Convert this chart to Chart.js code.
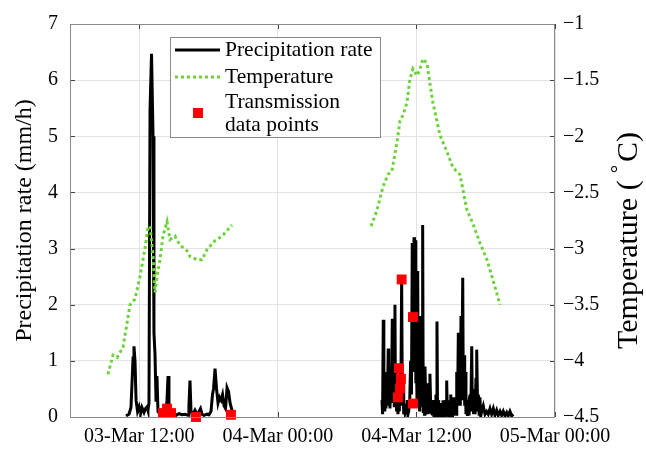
<!DOCTYPE html>
<html>
<head>
<meta charset="utf-8">
<title>Precipitation rate and temperature</title>
<script src="https://cdn.jsdelivr.net/npm/chart.js@4.4.0/dist/chart.umd.min.js"></script>
<style>
  html, body { margin: 0; padding: 0; background: #fff; }
  #wrap { width: 646px; height: 451px; }
</style>
</head>
<body>
<div id="wrap"><canvas id="rainChart" width="646" height="451"></canvas></div>
<script>
// Hours counted from 03-Mar 00:00
const xTickHours = [12, 24, 36, 48];
const xTickLabels = ['03-Mar 12:00', '04-Mar 00:00', '04-Mar 12:00', '05-Mar 00:00'];

// Precipitation rate (mm/h), null marks the gap overnight
const precipHours = [
  10.85, 11.11, 11.28, 11.37, 11.46, 11.54, 11.63, 11.72, 11.85, 11.98,
  12.10, 12.23, 12.41, 12.54, 12.67, 12.75, 12.84, 12.93, 13.06, 13.19,
  13.27, 13.36, 13.45, 13.53, 13.62, 13.79, 13.97, 14.14, 14.31, 14.40,
  14.49, 14.57, 14.70, 14.92, 15.18, 15.44, 15.70, 15.96, 16.22, 16.30,
  16.39, 16.48, 16.65, 16.82, 17.00, 17.17, 17.30, 17.43, 17.60, 17.86,
  18.04, 18.21, 18.34, 18.43, 18.56, 18.69, 18.82, 18.95, 19.08, 19.21,
  19.34, 19.47, 19.60, 19.73, 19.86, 19.99, 20.12,
  26.00,
  33.02, 33.07, 33.13, 33.18, 33.22, 33.26, 33.30, 33.36, 33.42, 33.49,
  33.56, 33.60, 33.65, 33.71, 33.77, 33.84, 33.91, 33.97, 34.03, 34.08,
  34.14, 34.18, 34.23, 34.28, 34.34, 34.40, 34.46, 34.52, 34.58, 34.65,
  34.72, 34.78, 34.84, 34.90, 34.95, 35.02, 35.10, 35.16, 35.21, 35.27,
  35.33, 35.42, 35.50, 35.57, 35.64, 35.68, 35.73, 35.76, 35.79, 35.84,
  35.90, 35.95, 35.99, 36.05, 36.11, 36.16, 36.22, 36.28, 36.33, 36.40,
  36.46, 36.50, 36.54, 36.59, 36.63, 36.69, 36.74, 36.82, 36.89, 36.96,
  37.03, 37.10, 37.17, 37.25, 37.32, 37.39, 37.46, 37.52, 37.58, 37.64,
  37.69, 37.74, 37.78, 37.83, 37.87, 37.93, 37.98, 38.03, 38.08, 38.14,
  38.19, 38.25, 38.30, 38.35, 38.39, 38.46, 38.52, 38.57, 38.62, 38.68,
  38.73, 38.78, 38.82, 38.87, 38.91, 38.95, 38.99, 39.04, 39.08, 39.13,
  39.17, 39.20, 39.23, 39.30, 39.37, 39.43, 39.49, 39.56, 39.63, 39.69,
  39.75, 39.80, 39.86, 39.93, 40.01, 40.06, 40.12, 40.18, 40.23, 40.29,
  40.35, 40.42, 40.49, 40.56, 40.64, 40.71, 40.79, 40.84, 40.90, 40.95,
  41.01, 41.08, 41.16, 41.20, 41.24, 41.30, 41.36, 41.43, 41.50, 41.57,
  41.65, 41.79, 41.94, 42.08, 42.22, 42.37, 42.51, 42.66, 42.80, 42.95,
  43.09, 43.24, 43.38, 43.52, 43.67, 43.82, 43.95, 44.10, 44.25, 44.39
];
const precipRate = [
  0.02, 0.05, 0.17, 0.60, 1.05, 1.26, 1.00, 0.30, 0.10, 0.18,
  0.05, 0.17, 0.08, 0.15, 0.18, 0.12, 0.25, 5.47, 6.47, 5.00,
  1.50, 1.12, 0.30, 0.73, 0.10, 0.05, 0.08, 0.04, 0.06, 0.30,
  0.73, 0.20, 0.05, 0.08, 0.03, 0.06, 0.04, 0.05, 0.03, 0.20,
  0.65, 0.10, 0.05, 0.12, 0.04, 0.10, 0.15, 0.05, 0.03, 0.05,
  0.04, 0.10, 0.40, 0.50, 0.86, 0.50, 0.25, 0.35, 0.30, 0.40,
  0.20, 0.15, 0.52, 0.45, 0.25, 0.15, 0.05,
  null,
  0.30, 0.05, 1.73, 0.20, 0.60, 0.10, 0.45, 0.15, 0.80, 0.30,
  1.22, 0.20, 0.90, 0.15, 0.60, 0.25, 1.75, 0.30, 1.00, 0.20,
  2.00, 0.40, 0.90, 0.10, 0.35, 0.05, 0.25, 0.10, 0.80, 0.30,
  2.43, 0.20, 0.60, 0.05, 0.24, 0.08, 0.15, 0.05, 0.30, 0.05,
  0.10, 0.30, 1.00, 0.40, 3.10, 1.00, 2.20, 0.80, 3.20, 1.50,
  3.15, 0.60, 1.20, 0.30, 2.60, 0.20, 0.50, 0.10, 1.80, 0.20,
  0.90, 0.30, 3.42, 0.10, 0.40, 0.05, 0.90, 0.10, 0.30, 0.05,
  0.60, 0.10, 0.77, 0.05, 0.20, 0.03, 0.30, 0.02, 0.08, 0.02,
  0.40, 0.10, 1.70, 0.05, 0.30, 0.02, 0.05, 0.01, 0.25, 0.02,
  0.15, 0.02, 0.30, 0.02, 0.05, 0.02, 0.30, 0.05, 0.65, 0.03,
  0.10, 0.02, 0.30, 0.03, 0.20, 0.05, 0.40, 0.02, 0.05, 0.01,
  0.20, 0.05, 0.35, 0.03, 0.15, 0.05, 0.80, 0.20, 1.50, 0.30,
  0.90, 0.20, 1.80, 0.50, 2.48, 0.30, 1.10, 0.20, 0.80, 0.05,
  0.30, 0.02, 0.15, 0.03, 0.40, 0.10, 1.26, 0.10, 0.50, 0.05,
  0.30, 0.05, 0.70, 0.20, 1.20, 0.10, 0.40, 0.05, 0.35, 0.02,
  0.10, 0.20, 0.05, 0.10, 0.05, 0.15, 0.05, 0.15, 0.03, 0.12,
  0.03, 0.10, 0.03, 0.10, 0.02, 0.08, 0.02, 0.10, 0.02, 0.05
];

// Air temperature (°C)
const tempHours = [
  9.29, 9.72, 10.07, 10.59, 11.20, 11.63, 12.06, 12.49, 12.75, 12.93,
  13.19, 13.36, 13.53, 13.79, 14.05, 14.40, 14.66, 15.09, 15.53, 16.13,
  16.39, 17.00, 17.43, 17.86, 18.56, 19.16, 20.03,
  26.00,
  32.07, 32.58, 33.10, 33.54, 33.88, 34.32, 34.58, 34.84, 35.18, 35.44,
  35.70, 36.05, 36.31, 36.57, 36.91, 37.17, 37.43, 38.04, 38.65, 39.17,
  39.77, 40.38, 40.90, 41.50, 42.11, 42.63, 43.24
];
const tempValues = [
  -4.12, -3.95, -3.97, -3.88, -3.50, -3.45, -3.25, -3.00, -2.82, -2.80,
  -3.07, -3.39, -3.25, -3.10, -2.89, -2.76, -2.92, -2.89, -2.97, -3.02,
  -3.07, -3.10, -3.10, -3.01, -2.93, -2.89, -2.79,
  null,
  -2.80, -2.66, -2.45, -2.34, -2.31, -2.05, -1.86, -1.81, -1.70, -1.49,
  -1.40, -1.46, -1.40, -1.31, -1.35, -1.53, -1.70, -1.99, -2.14, -2.28,
  -2.34, -2.66, -2.78, -2.95, -3.10, -3.28, -3.50
];

// Moments when a record was transmitted
const sendHours = [14.05, 14.40, 14.75, 16.91, 19.94, 34.40, 34.58, 34.66, 34.49, 34.72, 35.70, 35.70];
const sendRate = [0.07, 0.15, 0.07, 0.00, 0.04, 0.35, 0.51, 0.68, 0.87, 2.45, 1.78, 0.24];

const serif = '"Liberation Serif", "Times New Roman", serif';
Chart.defaults.font.family = serif;
Chart.defaults.color = '#000';

const GRID = '#e3e3e3';
const FRAME = '#8a8a8a';
const GREEN = '#6dd23c';

const pairUp = (xs, ys) => xs.map((x, i) => ({ x: x, y: ys[i] }));
const minus = v => (v < 0 ? '\u2212' : '') + Math.abs(v);

// axes box with inward tick marks, drawn over the data like MATLAB does
const axesBox = {
  id: 'axesBox',
  afterDatasetsDraw(chart) {
    const { ctx, chartArea: a, scales } = chart;
    ctx.save();
    ctx.lineWidth = 1;
    ctx.strokeStyle = '#444';
    ctx.beginPath();
    scales.x.ticks.forEach(t => {
      const px = Math.round(scales.x.getPixelForValue(t.value)) + 0.5;
      ctx.moveTo(px, a.bottom); ctx.lineTo(px, a.bottom - 5);
      ctx.moveTo(px, a.top); ctx.lineTo(px, a.top + 5);
    });
    scales.y.ticks.forEach(t => {
      const py = Math.round(scales.y.getPixelForValue(t.value)) + 0.5;
      ctx.moveTo(a.left, py); ctx.lineTo(a.left + 5, py);
    });
    scales.y1.ticks.forEach(t => {
      const py = Math.round(scales.y1.getPixelForValue(t.value)) + 0.5;
      ctx.moveTo(a.right, py); ctx.lineTo(a.right - 5, py);
    });
    ctx.stroke();
    ctx.strokeStyle = FRAME;
    ctx.strokeRect(a.left + 0.5, a.top + 0.5, a.width - 1, a.height);
    ctx.restore();
  }
};

// right-hand title, read bottom to top with a raised degree sign
const tempTitle = {
  id: 'tempTitle',
  afterDraw(chart) {
    const { ctx } = chart;
    ctx.save();
    ctx.translate(629, 349);
    ctx.rotate(-Math.PI / 2);
    ctx.fillStyle = '#000';
    ctx.textBaseline = 'middle';
    ctx.textAlign = 'left';
    ctx.font = '30px ' + serif;
    const head = 'Temperature (';
    let pos = ctx.measureText(head).width;
    ctx.fillText(head, 0, 0);
    pos += 7;
    ctx.font = '21px ' + serif;
    ctx.fillText('\u00b0', pos, -10);
    pos += ctx.measureText('\u00b0').width + 3;
    ctx.font = '30px ' + serif;
    ctx.fillText('C)', pos, 0);
    ctx.restore();
  }
};

// boxed legend in the upper part of the plot
const boxLegend = {
  id: 'boxLegend',
  afterDraw(chart) {
    const { ctx, chartArea: a } = chart;
    const x = a.left + 100, y = a.top + 13, w = 210, h = 100;
    ctx.save();
    ctx.fillStyle = '#fff';
    ctx.fillRect(x, y, w, h);
    ctx.strokeStyle = FRAME;
    ctx.lineWidth = 1;
    ctx.strokeRect(x + 0.5, y + 0.5, w, h);

    ctx.strokeStyle = '#000';
    ctx.lineWidth = 3;
    ctx.beginPath(); ctx.moveTo(x + 5, y + 13); ctx.lineTo(x + 50, y + 13); ctx.stroke();

    ctx.strokeStyle = GREEN;
    ctx.lineWidth = 3;
    ctx.setLineDash([3, 3]);
    ctx.beginPath(); ctx.moveTo(x + 5, y + 40); ctx.lineTo(x + 50, y + 40); ctx.stroke();
    ctx.setLineDash([]);

    ctx.fillStyle = '#ff0000';
    ctx.fillRect(x + 23, y + 71, 10, 10);

    ctx.fillStyle = '#000';
    ctx.font = '21.5px ' + serif;
    ctx.textBaseline = 'middle';
    ctx.fillText('Precipitation rate', x + 55, y + 13);
    ctx.fillText('Temperature', x + 55, y + 40);
    ctx.fillText('Transmission', x + 55, y + 65);
    ctx.fillText('data points', x + 55, y + 88);
    ctx.restore();
  }
};

new Chart(document.getElementById('rainChart'), {
  type: 'line',
  data: {
    datasets: [
      {
        label: 'Precipitation rate',
        data: pairUp(precipHours, precipRate),
        yAxisID: 'y',
        borderColor: '#000',
        borderWidth: 3,
        borderJoinStyle: 'miter',
        pointRadius: 0,
        tension: 0,
        spanGaps: false,
        order: 3
      },
      {
        label: 'Temperature',
        data: pairUp(tempHours, tempValues),
        yAxisID: 'y1',
        borderColor: GREEN,
        borderWidth: 3,
        borderDash: [3, 3],
        pointRadius: 0,
        tension: 0,
        spanGaps: false,
        order: 2
      },
      {
        label: 'Transmission data points',
        data: pairUp(sendHours, sendRate),
        yAxisID: 'y',
        showLine: false,
        pointStyle: 'rect',
        pointRadius: 7,
        pointBorderWidth: 0,
        pointBackgroundColor: '#ff0000',
        clip: false,
        order: 1
      }
    ]
  },
  options: {
    responsive: false,
    animation: false,
    layout: { padding: { top: 17, left: 0, right: 0, bottom: 0 } },
    plugins: { legend: { display: false }, tooltip: { enabled: false } },
    scales: {
      x: {
        type: 'linear',
        min: 6,
        max: 48,
        afterBuildTicks: s => { s.ticks = xTickHours.map(v => ({ value: v })); },
        afterFit: s => { s.height = 34; },
        ticks: {
          autoSkip: false,
          maxRotation: 0,
          padding: 8,
          font: { size: 20 },
          callback: v => xTickLabels[xTickHours.indexOf(v)]
        },
        grid: { color: GRID, drawTicks: false },
        border: { display: false }
      },
      y: {
        position: 'left',
        min: 0,
        max: 7,
        afterFit: s => { s.width = 70; },
        ticks: { stepSize: 1, padding: 12, font: { size: 20 } },
        grid: { color: GRID, drawTicks: false },
        border: { display: false },
        title: {
          display: true,
          text: 'Precipitation rate (mm/h)',
          font: { size: 24 },
          padding: { top: 10 }
        }
      },
      y1: {
        position: 'right',
        min: -4.5,
        max: -1,
        afterFit: s => { s.width = 91; },
        ticks: { stepSize: 0.5, padding: 8, font: { size: 20 }, callback: minus },
        grid: { drawOnChartArea: false, drawTicks: false },
        border: { display: false }
      }
    }
  },
  plugins: [axesBox, tempTitle, boxLegend]
});
</script>
</body>
</html>
